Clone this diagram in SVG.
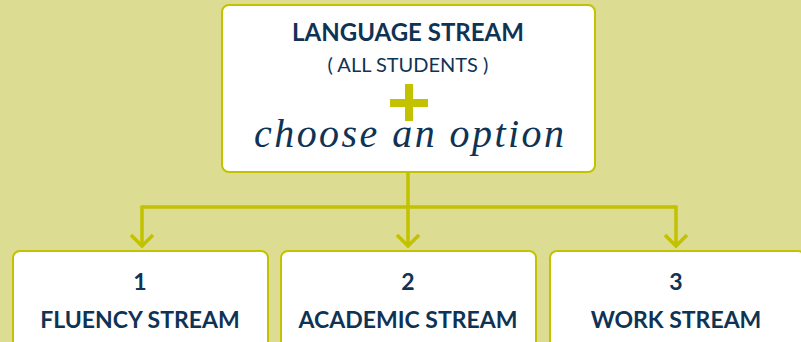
<svg xmlns="http://www.w3.org/2000/svg" width="801" height="342" viewBox="0 0 801 342">
<defs>
<style>
.box{fill:#fff;stroke:#c2c200;stroke-width:2}
.t{font-family:Lato,"Open Sans",sans-serif;fill:#0f3354;text-anchor:middle}
.b{font-weight:bold;font-size:23px}
.con{fill:none;stroke:#c2c200;stroke-width:3.5}
.script{font-family:"Liberation Serif",serif;font-style:italic;font-size:40px;fill:#0f3354}
</style>
</defs>
<rect width="801" height="342" fill="#dcdc92"/>
<g id="connectors">
<path class="con" d="M408,172 V207"/>
<path class="con" d="M142,207 H676"/>
<path class="con" d="M142,205.5 V246"/>
<path class="con" d="M408,207 V246"/>
<path class="con" d="M676,205.5 V246"/>
<path class="con" d="M131,235 L142,246 L153,235"/>
<path class="con" d="M397,235 L408,246 L419,235"/>
<path class="con" d="M665,235 L676,246 L687,235"/>
</g>
<g id="language-stream">
<rect class="box" x="222" y="5" width="373" height="167" rx="7"/>
<text class="t" x="408" y="41" font-size="24" font-weight="bold">LANGUAGE STREAM</text>
<text class="t" x="408" y="72" font-size="20">( ALL STUDENTS )</text>
<path d="M409,84 V121 M390,103 H428" stroke="#c2c200" stroke-width="8"/>
<text class="script" x="254" y="147" textLength="310" lengthAdjust="spacing">choose an option</text>
</g>
<g id="fluency">
<rect class="box" x="13" y="251" width="255" height="100" rx="7"/>
<text class="t b" x="140" y="290">1</text>
<text class="t b" x="140" y="328">FLUENCY STREAM</text>
</g>
<g id="academic">
<rect class="box" x="281" y="251" width="255" height="100" rx="7"/>
<text class="t b" x="408" y="290">2</text>
<text class="t b" x="408" y="328">ACADEMIC STREAM</text>
</g>
<g id="work">
<rect class="box" x="550" y="251" width="255" height="100" rx="7"/>
<text class="t b" x="676" y="290">3</text>
<text class="t b" x="676" y="328">WORK STREAM</text>
</g>
</svg>
